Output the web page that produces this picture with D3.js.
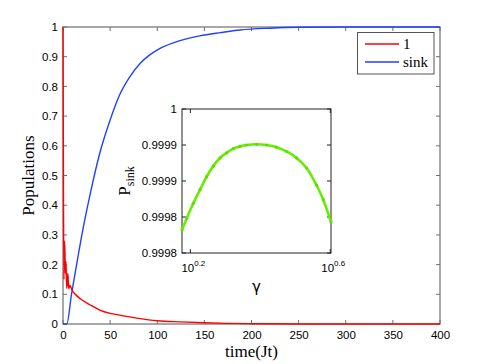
<!DOCTYPE html>
<html>
<head>
<meta charset="utf-8">
<script src="https://cdn.jsdelivr.net/npm/d3@7"></script>
<style>
  body { margin: 0; background: #fff; }
  text { fill: #000; }
</style>
</head>
<body>
<script>
// Main panel data: population vs time(Jt)
const redT = [0, 0.5, 1.0, 1.4, 2.0, 2.6, 3.2, 3.9, 4.5, 5.2, 5.8, 6.4, 7.2, 8.2, 10, 13, 18, 29, 39, 50, 60, 80, 100, 125, 150, 175, 200, 250, 300, 400];
const redV = [1, 0.45, 0.15, 0.28, 0.25, 0.17, 0.21, 0.12, 0.14, 0.17, 0.13, 0.12, 0.13, 0.125, 0.112, 0.10, 0.086, 0.064, 0.047, 0.036, 0.030, 0.019, 0.011, 0.007, 0.004, 0.002, 0.001, 0, 0, 0];

const sinkT = [0, 4, 9, 15, 20, 29, 39, 50, 60, 71, 82, 92, 103, 124, 145, 167, 188, 220, 250, 300, 350, 400];
const sinkV = [0, 0, 0.10, 0.21, 0.30, 0.44, 0.575, 0.687, 0.771, 0.833, 0.878, 0.906, 0.928, 0.954, 0.970, 0.981, 0.990, 0.996, 0.999, 1, 1, 1];

const xTicks = [0, 50, 100, 150, 200, 250, 300, 350, 400];
const yTicks = [0, 0.1, 0.2, 0.3, 0.4, 0.5, 0.6, 0.7, 0.8, 0.9, 1];
const yTickLabels = ["0", "0.1", "0.2", "0.3", "0.4", "0.5", "0.6", "0.7", "0.8", "0.9", "1"];

// Inset data: P_sink vs gamma
const gamma = [1.50, 1.547, 1.616, 1.689, 1.764, 1.844, 1.926, 2.012, 2.102, 2.196, 2.296, 2.452, 2.618, 2.796, 2.987, 3.190, 3.406, 3.638, 3.802, 4.0];
const pSink = [0.999832, 0.999848, 0.999869, 0.999888, 0.999906, 0.999921, 0.999932, 0.999939, 0.999945, 0.999948, 0.999950, 0.999951, 0.999950, 0.999947, 0.999941, 0.999932, 0.999918, 0.999894, 0.999874, 0.999843];
const insetYTicks = [0.9998, 0.99985, 0.9999, 0.99995, 1];
const insetYLabels = ["0.9998", "0.9998", "0.9999", "0.9999", "1"];
const insetXTicks = [Math.pow(10, 0.2), Math.pow(10, 0.6)];
const insetXExp = ["0.2", "0.6"];

const legendNames = ["1", "sink"];
const legendColors = ["#ff0000", "#2040ff"];

const W = 485, H = 364;
const svg = d3.select("body").append("svg")
  .attr("width", W).attr("height", H)
  .style("font-family", "'Liberation Sans', Arial, sans-serif");
svg.append("rect").attr("width", W).attr("height", H).attr("fill", "#fff");

// main axes box
const box = {left: 63, right: 440, top: 27, bottom: 324};
const x = d3.scaleLinear().domain([0, 400]).range([box.left, box.right]);
const y = d3.scaleLinear().domain([0, 1]).range([box.bottom, box.top]);

const axisColor = "#6e6e6e";
const tickLen = 4;

const g = svg.append("g");

// curves
const line = d3.line().x(d => x(d[0])).y(d => y(d[1])).curve(d3.curveMonotoneX);
g.append("path")
  .datum(sinkT.map((t, i) => [t, sinkV[i]]))
  .attr("d", line)
  .attr("fill", "none").attr("stroke", legendColors[1]).attr("stroke-width", 1.4);
g.append("path")
  .datum(redT.map((t, i) => [t, redV[i]]))
  .attr("d", line)
  .attr("fill", "none").attr("stroke", legendColors[0]).attr("stroke-width", 1.4);

// bottom axis
const xAxis = d3.axisBottom(x).tickValues(xTicks).tickSize(0).tickPadding(7).tickFormat(d3.format("d"));
const gx = svg.append("g").attr("transform", `translate(0,${box.bottom})`).call(xAxis);
gx.select(".domain").remove();
gx.selectAll("text").attr("font-size", 11.5).attr("fill", "#000");

// left axis
const yAxis = d3.axisLeft(y).tickValues(yTicks).tickSize(0).tickPadding(5)
  .tickFormat((d, i) => yTickLabels[i]);
const gy = svg.append("g").attr("transform", `translate(${box.left},0)`).call(yAxis);
gy.select(".domain").remove();
gy.selectAll("text").attr("font-size", 11.5).attr("fill", "#000");

// inward ticks on all four sides
const ticksG = svg.append("g").attr("stroke", axisColor).attr("stroke-width", 1);
xTicks.forEach(t => {
  ticksG.append("line").attr("x1", x(t)).attr("x2", x(t)).attr("y1", box.bottom).attr("y2", box.bottom - tickLen);
  ticksG.append("line").attr("x1", x(t)).attr("x2", x(t)).attr("y1", box.top).attr("y2", box.top + tickLen);
});
yTicks.forEach(t => {
  ticksG.append("line").attr("x1", box.left).attr("x2", box.left + tickLen).attr("y1", y(t)).attr("y2", y(t));
  ticksG.append("line").attr("x1", box.right).attr("x2", box.right - tickLen).attr("y1", y(t)).attr("y2", y(t));
});
svg.append("rect")
  .attr("x", box.left).attr("y", box.top)
  .attr("width", box.right - box.left).attr("height", box.bottom - box.top)
  .attr("fill", "none").attr("stroke", axisColor).attr("stroke-width", 1.2);

// redraw curves above box so red line at t=0 shows
svg.node().appendChild(g.node());

// axis titles
svg.append("text")
  .attr("x", (box.left + box.right) / 2).attr("y", 357)
  .attr("text-anchor", "middle")
  .attr("font-family", "'Liberation Serif', 'Times New Roman', serif")
  .attr("font-size", 17)
  .text("time(Jt)");
svg.append("text")
  .attr("transform", `translate(34,${(box.top + box.bottom) / 2}) rotate(-90)`)
  .attr("text-anchor", "middle")
  .attr("font-family", "'Liberation Serif', 'Times New Roman', serif")
  .attr("font-size", 17)
  .text("Populations");

// legend
const leg = svg.append("g");
leg.append("rect")
  .attr("x", 357.5).attr("y", 32.5).attr("width", 76.5).attr("height", 41.5)
  .attr("fill", "#fff").attr("stroke", "#555").attr("stroke-width", 1);
legendNames.forEach((name, i) => {
  const ly = 44 + i * 18;
  leg.append("line").attr("x1", 365).attr("x2", 399).attr("y1", ly).attr("y2", ly)
    .attr("stroke", legendColors[i]).attr("stroke-width", 1.4);
  leg.append("text").attr("x", 403).attr("y", ly + 5)
    .attr("font-family", "'Liberation Serif', 'Times New Roman', serif")
    .attr("font-size", 15)
    .text(name);
});

// ---------- inset ----------
const ib = {left: 182, right: 331, top: 109, bottom: 253};
const ix = d3.scaleLog().domain([1.5, 4]).range([ib.left, ib.right]);
const iy = d3.scaleLinear().domain([0.9998, 1]).range([ib.bottom, ib.top]);

const inset = svg.append("g");
inset.append("rect")
  .attr("x", ib.left).attr("y", ib.top)
  .attr("width", ib.right - ib.left).attr("height", ib.bottom - ib.top)
  .attr("fill", "#fff").attr("stroke", "#222").attr("stroke-width", 1);

insetYTicks.forEach((t, i) => {
  inset.append("line").attr("x1", ib.left).attr("x2", ib.left + tickLen).attr("y1", iy(t)).attr("y2", iy(t)).attr("stroke", "#222");
  inset.append("line").attr("x1", ib.right).attr("x2", ib.right - tickLen).attr("y1", iy(t)).attr("y2", iy(t)).attr("stroke", "#222");
  inset.append("text").attr("x", ib.left - 5).attr("y", iy(t)).attr("dy", "0.35em")
    .attr("text-anchor", "end").attr("font-size", 11.5)
    .text(insetYLabels[i]);
});
insetXTicks.forEach((t, i) => {
  inset.append("line").attr("x1", ix(t)).attr("x2", ix(t)).attr("y1", ib.bottom).attr("y2", ib.bottom - tickLen).attr("stroke", "#222");
  inset.append("line").attr("x1", ix(t)).attr("x2", ix(t)).attr("y1", ib.top).attr("y2", ib.top + tickLen).attr("stroke", "#222");
  const tx = inset.append("text").attr("x", ix(t) + 3).attr("y", 272)
    .attr("text-anchor", "middle").attr("font-size", 11.5);
  tx.append("tspan").text("10");
  tx.append("tspan").attr("font-size", 8).attr("dy", -6).text(insetXExp[i]);
});

const gpts = gamma.map((gm, i) => [gm, pSink[i]]);
inset.append("path")
  .datum(gpts)
  .attr("d", d3.line().x(d => ix(d[0])).y(d => iy(d[1])).curve(d3.curveMonotoneX))
  .attr("fill", "none").attr("stroke", "#66ee00").attr("stroke-width", 2.6);
inset.selectAll("circle.pt").data(gpts).join("circle")
  .attr("class", "pt")
  .attr("cx", d => ix(d[0])).attr("cy", d => iy(d[1])).attr("r", 1.6)
  .attr("fill", "#5fdc00");

// inset labels
const pl = inset.append("text")
  .attr("transform", `translate(130,${(ib.top + ib.bottom) / 2}) rotate(-90)`)
  .attr("text-anchor", "middle")
  .attr("font-family", "'Liberation Serif', 'Times New Roman', serif")
  .attr("font-size", 17);
pl.append("tspan").text("P");
pl.append("tspan").attr("font-size", 12).attr("dy", 4).text("sink");

inset.append("text")
  .attr("x", (ib.left + ib.right) / 2).attr("y", 292)
  .attr("text-anchor", "middle").attr("font-size", 15)
  .attr("font-family", "'DejaVu Sans', sans-serif")
  .text("γ");
</script>
</body>
</html>
